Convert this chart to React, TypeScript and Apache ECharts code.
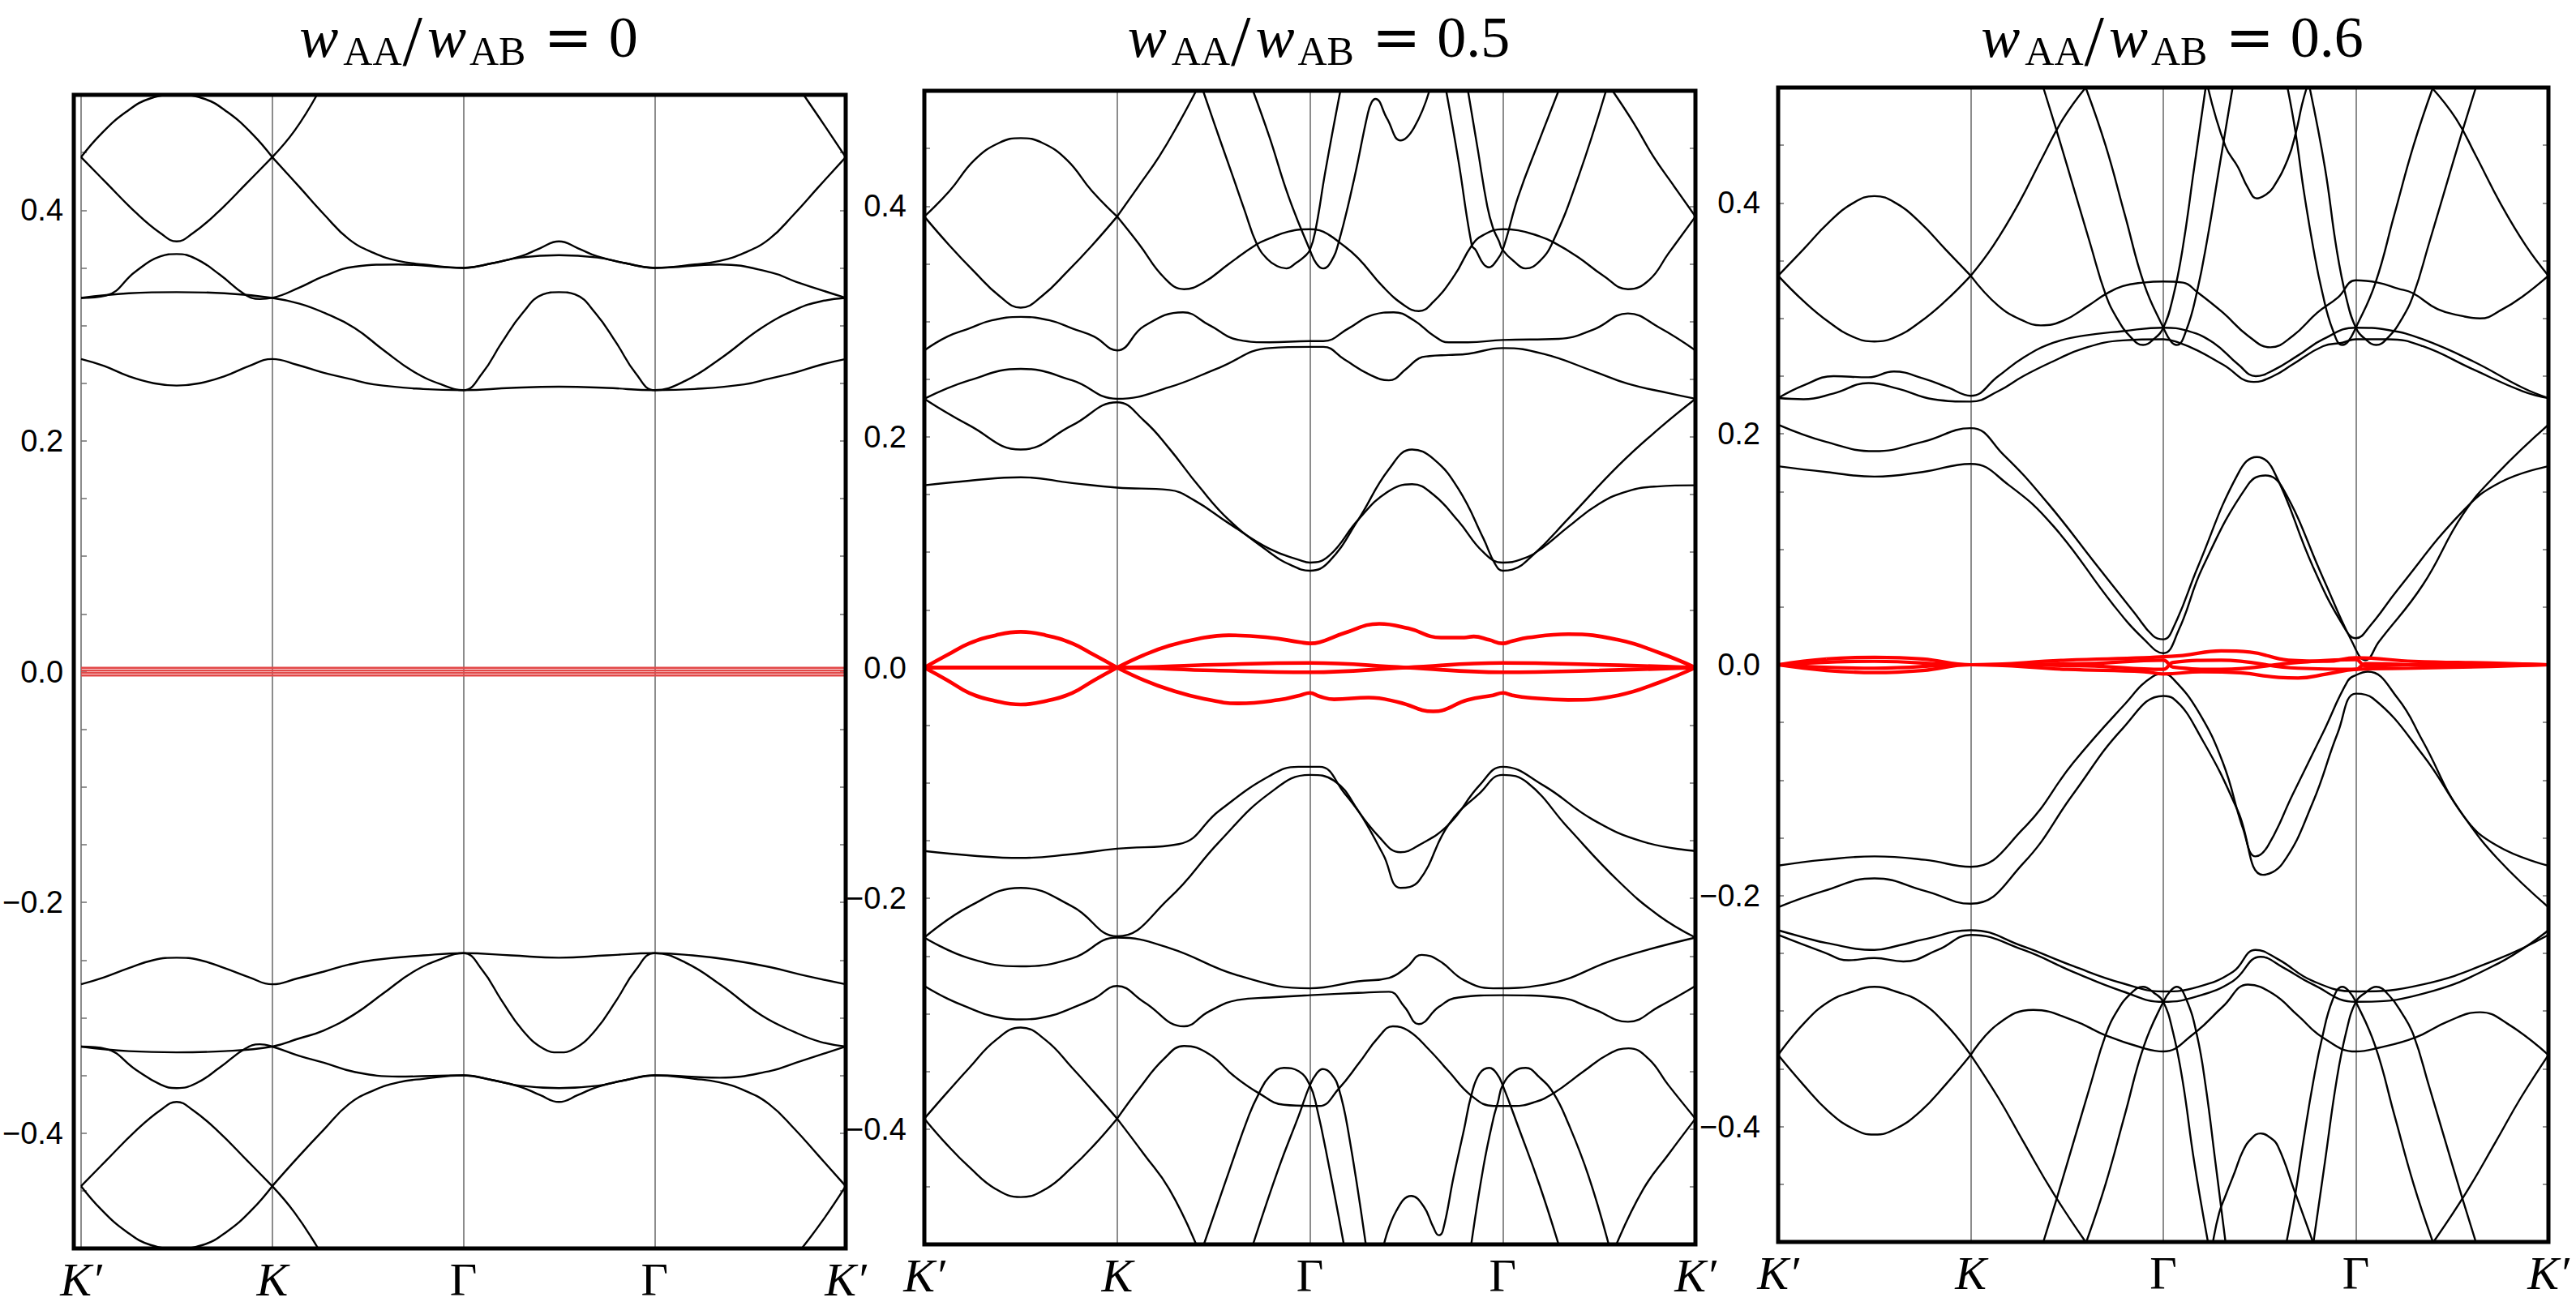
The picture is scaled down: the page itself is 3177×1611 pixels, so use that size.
import React, { useEffect, useRef } from 'react';
import * as echarts from 'echarts';

type Pt = [number, number];

// ---------- labels ----------
const kPathNames = ['K′', 'K', 'Γ', 'Γ', 'K′'];
const energyTicks = [-0.4, -0.2, 0, 0.2, 0.4];
const energyTickText = ['−0.4', '−0.2', '0.0', '0.2', '0.4'];
const ratioValues = ['0', '0.5', '0.6'];

// ---------- panel 1 : wAA/wAB = 0 ----------
const p1DiamondTop: Pt[] = [[0,0.446],[0.104,0.466],[0.234,0.485],[0.364,0.497],[0.5,0.5],[0.636,0.497],[0.766,0.485],[0.896,0.466],[1,0.446]];
const p1DiamondMid: Pt[] = [[0,0.446],[0.13,0.424],[0.286,0.398],[0.416,0.38],[0.5,0.373],[0.584,0.38],[0.714,0.398],[0.87,0.424],[1,0.446]];
const p1RiseK: Pt[] = [[1,0.446],[1.117,0.469],[1.234,0.5]];
const p1RiseKp: Pt[] = [[3.78,0.5],[3.883,0.475],[4,0.446]];
const p1BandD: Pt[] = [[1,0.446],[1.143,0.42],[1.273,0.396],[1.4,0.375],[1.53,0.363],[1.66,0.356],[1.79,0.353],[2,0.35],[2.15,0.354],[2.3,0.36],[2.4,0.367],[2.5,0.373],[2.6,0.367],[2.7,0.36],[2.85,0.354],[3,0.35],[3.21,0.353],[3.34,0.356],[3.47,0.363],[3.6,0.375],[3.727,0.396],[3.857,0.42],[4,0.446]];
const p1BandC: Pt[] = [[0,0.324],[0.13,0.326],[0.286,0.347],[0.416,0.36],[0.5,0.362],[0.6,0.358],[0.727,0.344],[0.857,0.327],[0.935,0.323],[1,0.324],[1.143,0.333],[1.273,0.343],[1.43,0.351],[1.66,0.353],[2,0.35],[2.15,0.354],[2.3,0.359],[2.5,0.361],[2.7,0.359],[2.85,0.354],[3,0.35],[3.34,0.353],[3.61,0.346],[3.74,0.338],[4,0.324]];
const p1BandB: Pt[] = [[0,0.324],[0.25,0.328],[0.5,0.329],[0.75,0.328],[1,0.324],[1.143,0.319],[1.273,0.311],[1.43,0.298],[1.58,0.279],[1.74,0.26],[1.9,0.248],[2,0.244],[2.1,0.259],[2.2,0.285],[2.31,0.311],[2.416,0.327],[2.5,0.329],[2.584,0.327],[2.69,0.311],[2.8,0.285],[2.9,0.259],[3,0.244],[3.16,0.252],[3.35,0.272],[3.56,0.298],[3.74,0.314],[3.87,0.321],[4,0.324]];
const p1BandA: Pt[] = [[0,0.271],[0.12,0.265],[0.25,0.256],[0.38,0.25],[0.5,0.248],[0.62,0.25],[0.75,0.256],[0.88,0.265],[1,0.271],[1.13,0.266],[1.27,0.259],[1.4,0.254],[1.53,0.249],[1.79,0.245],[2,0.244],[2.25,0.246],[2.5,0.247],[2.75,0.246],[3,0.244],[3.21,0.245],[3.47,0.249],[3.6,0.254],[3.73,0.259],[3.87,0.266],[4,0.271]];
const p1DiamondBottom: Pt[] = [[0,-0.446],[0.104,-0.466],[0.234,-0.485],[0.364,-0.497],[0.5,-0.5],[0.636,-0.497],[0.766,-0.485],[0.896,-0.466],[1,-0.446]];
const p1DiamondLowMid: Pt[] = [[0,-0.446],[0.13,-0.424],[0.286,-0.398],[0.416,-0.38],[0.5,-0.373],[0.584,-0.38],[0.714,-0.398],[0.87,-0.424],[1,-0.446]];
const p1DropK: Pt[] = [[1,-0.446],[1.117,-0.469],[1.24,-0.5]];
const p1DropKp: Pt[] = [[3.77,-0.5],[3.883,-0.475],[4,-0.446]];
const p1BandDLow: Pt[] = [[1,-0.446],[1.14,-0.42],[1.27,-0.397],[1.4,-0.375],[1.53,-0.363],[1.66,-0.356],[1.79,-0.353],[2,-0.35],[2.15,-0.354],[2.3,-0.36],[2.4,-0.367],[2.5,-0.373],[2.6,-0.367],[2.7,-0.36],[2.85,-0.354],[3,-0.35],[3.21,-0.353],[3.34,-0.356],[3.47,-0.363],[3.6,-0.375],[3.73,-0.396],[3.86,-0.42],[4,-0.446]];
const p1BandCLow: Pt[] = [[0,-0.325],[0.13,-0.327],[0.286,-0.345],[0.416,-0.358],[0.5,-0.361],[0.6,-0.357],[0.727,-0.343],[0.857,-0.327],[0.935,-0.323],[1,-0.325],[1.14,-0.333],[1.27,-0.339],[1.43,-0.347],[1.66,-0.351],[2,-0.35],[2.15,-0.354],[2.3,-0.359],[2.5,-0.361],[2.7,-0.359],[2.85,-0.354],[3,-0.35],[3.34,-0.352],[3.61,-0.346],[3.74,-0.339],[4,-0.325]];
const p1BandBLow: Pt[] = [[0,-0.325],[0.25,-0.329],[0.5,-0.33],[0.75,-0.329],[1,-0.325],[1.14,-0.318],[1.27,-0.311],[1.43,-0.297],[1.58,-0.279],[1.74,-0.26],[1.9,-0.248],[2,-0.244],[2.1,-0.259],[2.2,-0.285],[2.31,-0.311],[2.42,-0.327],[2.5,-0.33],[2.58,-0.327],[2.69,-0.311],[2.8,-0.285],[2.9,-0.259],[3,-0.244],[3.16,-0.252],[3.35,-0.272],[3.56,-0.298],[3.74,-0.313],[3.87,-0.321],[4,-0.325]];
const p1BandALow: Pt[] = [[0,-0.271],[0.12,-0.265],[0.25,-0.257],[0.38,-0.25],[0.5,-0.248],[0.62,-0.25],[0.75,-0.257],[0.88,-0.265],[1,-0.271],[1.13,-0.266],[1.27,-0.26],[1.4,-0.254],[1.53,-0.25],[1.79,-0.246],[2,-0.244],[2.25,-0.246],[2.5,-0.248],[2.75,-0.246],[3,-0.244],[3.2,-0.246],[3.4,-0.25],[3.6,-0.256],[3.8,-0.264],[4,-0.271]];
const p1FlatA: Pt[] = [[0,0.0033],[4,0.0033]];
const p1FlatB: Pt[] = [[0,0.0011],[4,0.0011]];
const p1FlatC: Pt[] = [[0,-0.0011],[4,-0.0011]];
const p1FlatD: Pt[] = [[0,-0.0033],[4,-0.0033]];

// ---------- panel 2 : wAA/wAB = 0.5 ----------
const p2DiamondTop: Pt[] = [[0,0.391],[0.13,0.413],[0.26,0.44],[0.39,0.455],[0.5,0.459],[0.61,0.455],[0.74,0.44],[0.87,0.413],[1,0.391]];
const p2DiamondBottom: Pt[] = [[0,0.391],[0.13,0.366],[0.26,0.343],[0.39,0.322],[0.5,0.312],[0.61,0.322],[0.74,0.343],[0.87,0.366],[1,0.391]];
const p2RiseK: Pt[] = [[1,0.391],[1.114,0.418],[1.218,0.443],[1.32,0.472],[1.41,0.5]];
const p2RiseKp: Pt[] = [[3.57,0.5],[3.68,0.472],[3.782,0.443],[3.886,0.418],[4,0.391]];
const p2Dome: Pt[] = [[1,0.391],[1.114,0.367],[1.244,0.338],[1.347,0.328],[1.45,0.334],[1.58,0.35],[1.725,0.367],[1.79,0.372],[1.89,0.378],[2,0.38],[2.05,0.379],[2.1,0.375],[2.15,0.369],[2.25,0.355],[2.38,0.33],[2.49,0.314],[2.565,0.309],[2.64,0.317],[2.75,0.34],[2.84,0.366],[2.9,0.375],[3,0.38],[3.08,0.379],[3.19,0.374],[3.26,0.369],[3.39,0.356],[3.52,0.34],[3.65,0.328],[3.76,0.336],[3.86,0.359],[4,0.391]];
const p2SteepA: Pt[] = [[1.446,0.5],[1.52,0.464],[1.6,0.426],[1.66,0.397],[1.725,0.367],[1.78,0.354],[1.83,0.348],[1.878,0.346],[1.93,0.351],[1.97,0.356],[2,0.362],[2.03,0.38],[2.08,0.43],[2.158,0.5]];
const p2SteepB: Pt[] = [[1.705,0.5],[1.79,0.46],[1.89,0.408],[2,0.362],[2.035,0.35],[2.07,0.346],[2.11,0.352],[2.15,0.369],[2.23,0.424],[2.3,0.48],[2.32,0.49],[2.34,0.493],[2.4,0.476],[2.47,0.457],[2.54,0.468],[2.62,0.5]];
const p2SteepC: Pt[] = [[2.707,0.5],[2.77,0.44],[2.84,0.366],[2.86,0.362],[2.9,0.35],[2.93,0.347],[2.965,0.352],[3,0.362],[3.08,0.408],[3.19,0.457],[3.29,0.5]];
const p2SteepD: Pt[] = [[2.82,0.5],[2.87,0.45],[2.92,0.4],[2.95,0.381],[2.98,0.37],[3,0.362],[3.06,0.352],[3.12,0.346],[3.19,0.352],[3.26,0.369],[3.39,0.424],[3.536,0.5]];
const p2BandP: Pt[] = [[0,0.275],[0.12,0.287],[0.233,0.294],[0.35,0.301],[0.5,0.304],[0.65,0.301],[0.767,0.294],[0.88,0.287],[1,0.275],[1.14,0.296],[1.342,0.308],[1.477,0.297],[1.632,0.284],[1.79,0.282],[2,0.283],[2.07,0.283],[2.2,0.294],[2.33,0.306],[2.435,0.308],[2.54,0.301],[2.64,0.288],[2.72,0.282],[2.82,0.282],[3,0.284],[3.29,0.285],[3.47,0.293],[3.65,0.307],[3.81,0.295],[4,0.275]];
const p2BandQ: Pt[] = [[0,0.233],[0.233,0.249],[0.5,0.259],[0.767,0.249],[1,0.233],[1.27,0.243],[1.53,0.26],[1.79,0.277],[2,0.278],[2.07,0.278],[2.18,0.267],[2.31,0.254],[2.41,0.249],[2.5,0.259],[2.565,0.268],[2.62,0.27],[2.72,0.271],[2.82,0.272],[3,0.277],[3.21,0.272],[3.47,0.257],[3.65,0.246],[3.86,0.238],[4,0.233]];
const p2BandR: Pt[] = [[0,0.233],[0.233,0.21],[0.5,0.189],[0.767,0.21],[1,0.23],[1.14,0.214],[1.27,0.19],[1.425,0.157],[1.58,0.128],[1.79,0.1],[1.9,0.089],[2,0.084],[2.1,0.092],[2.25,0.128],[2.41,0.172],[2.53,0.189],[2.64,0.181],[2.77,0.155],[2.9,0.112],[2.96,0.09],[3,0.084],[3.05,0.085],[3.16,0.098],[3.34,0.129],[3.6,0.175],[3.81,0.207],[4,0.233]];
const p2BandS: Pt[] = [[0,0.158],[0.233,0.162],[0.5,0.165],[0.767,0.16],[1,0.156],[1.27,0.154],[1.4,0.145],[1.58,0.125],[1.79,0.103],[1.95,0.093],[2,0.091],[2.1,0.097],[2.25,0.128],[2.4,0.152],[2.53,0.159],[2.64,0.15],[2.77,0.127],[2.9,0.1],[3,0.091],[3.1,0.094],[3.2,0.103],[3.34,0.122],[3.5,0.142],[3.65,0.153],[3.8,0.157],[4,0.158]];
const p2DiamondLowTop: Pt[] = [[0,-0.391],[0.12,-0.368],[0.233,-0.347],[0.37,-0.323],[0.5,-0.312],[0.63,-0.323],[0.767,-0.347],[0.88,-0.368],[1,-0.391]];
const p2DiamondLowBottom: Pt[] = [[0,-0.391],[0.12,-0.414],[0.233,-0.433],[0.37,-0.452],[0.5,-0.459],[0.63,-0.452],[0.767,-0.433],[0.88,-0.414],[1,-0.391]];
const p2DropK: Pt[] = [[1,-0.391],[1.14,-0.422],[1.27,-0.452],[1.41,-0.5]];
const p2DropKp: Pt[] = [[3.59,-0.5],[3.73,-0.452],[3.86,-0.422],[4,-0.391]];
const p2DomeLow: Pt[] = [[1,-0.391],[1.114,-0.365],[1.244,-0.339],[1.347,-0.328],[1.477,-0.335],[1.606,-0.354],[1.736,-0.369],[1.865,-0.379],[2,-0.38],[2.05,-0.38],[2.15,-0.365],[2.254,-0.343],[2.358,-0.32],[2.43,-0.311],[2.513,-0.315],[2.617,-0.331],[2.72,-0.35],[2.837,-0.371],[2.953,-0.38],[3.057,-0.38],[3.16,-0.377],[3.264,-0.369],[3.42,-0.35],[3.55,-0.335],[3.653,-0.33],[3.756,-0.339],[3.86,-0.362],[4,-0.391]];
const p2SteepALow: Pt[] = [[1.45,-0.5],[1.58,-0.437],[1.684,-0.388],[1.736,-0.369],[1.788,-0.355],[1.865,-0.347],[1.943,-0.35],[2,-0.362],[2.034,-0.38],[2.1,-0.433],[2.176,-0.5]];
const p2SteepBLow: Pt[] = [[1.705,-0.5],[1.84,-0.433],[1.943,-0.388],[2,-0.362],[2.034,-0.352],[2.067,-0.348],[2.11,-0.352],[2.15,-0.365],[2.2,-0.403],[2.29,-0.5]];
const p2SteepCLow: Pt[] = [[2.384,-0.5],[2.448,-0.471],[2.526,-0.458],[2.59,-0.467],[2.64,-0.485],[2.668,-0.492],[2.69,-0.488],[2.746,-0.441],[2.8,-0.4],[2.837,-0.371],[2.88,-0.352],[2.93,-0.347],[2.97,-0.352],[3,-0.362],[3.083,-0.399],[3.19,-0.448],[3.29,-0.5]];
const p2SteepDLow: Pt[] = [[2.837,-0.5],[2.9,-0.433],[2.953,-0.39],[2.975,-0.377],[3,-0.362],[3.06,-0.35],[3.12,-0.347],[3.19,-0.355],[3.264,-0.369],[3.34,-0.395],[3.446,-0.441],[3.55,-0.5]];
const p2BandPLow: Pt[] = [[0,-0.276],[0.12,-0.287],[0.233,-0.295],[0.35,-0.302],[0.5,-0.305],[0.65,-0.302],[0.767,-0.295],[0.88,-0.287],[1,-0.276],[1.14,-0.29],[1.347,-0.311],[1.477,-0.298],[1.63,-0.288],[1.79,-0.286],[2,-0.284],[2.25,-0.282],[2.41,-0.281],[2.49,-0.294],[2.565,-0.309],[2.67,-0.294],[2.77,-0.286],[3,-0.284],[3.29,-0.286],[3.47,-0.296],[3.65,-0.307],[3.81,-0.294],[4,-0.276]];
const p2BandQLow: Pt[] = [[0,-0.234],[0.233,-0.252],[0.5,-0.259],[0.767,-0.252],[1,-0.234],[1.27,-0.243],[1.63,-0.267],[2,-0.278],[2.25,-0.272],[2.41,-0.269],[2.5,-0.26],[2.58,-0.249],[2.67,-0.254],[2.8,-0.271],[2.95,-0.278],[3.21,-0.275],[3.6,-0.252],[4,-0.234]];
const p2BandRLow: Pt[] = [[0,-0.234],[0.233,-0.207],[0.5,-0.191],[0.767,-0.207],[1,-0.233],[1.27,-0.2],[1.53,-0.151],[1.79,-0.109],[2,-0.093],[2.125,-0.098],[2.25,-0.124],[2.38,-0.162],[2.47,-0.191],[2.565,-0.185],[2.72,-0.136],[2.88,-0.109],[3,-0.093],[3.13,-0.1],[3.34,-0.139],[3.6,-0.185],[3.81,-0.215],[4,-0.234]];
const p2BandSLow: Pt[] = [[0,-0.159],[0.25,-0.163],[0.5,-0.165],[0.75,-0.162],[1,-0.157],[1.32,-0.153],[1.53,-0.124],[1.79,-0.094],[1.94,-0.086],[2.05,-0.086],[2.18,-0.109],[2.36,-0.147],[2.47,-0.16],[2.565,-0.154],[2.72,-0.136],[2.88,-0.102],[3,-0.086],[3.21,-0.102],[3.47,-0.132],[3.73,-0.151],[4,-0.159]];
const p2FlatUpL: Pt[] = [[0,0],[0.12,0.011],[0.233,0.021],[0.37,0.028],[0.5,0.031],[0.63,0.028],[0.767,0.021],[0.88,0.011],[1,0]];
const p2FlatUpR: Pt[] = [[1,0],[1.14,0.011],[1.27,0.019],[1.42,0.025],[1.58,0.028],[1.79,0.026],[1.95,0.022],[2,0.021],[2.05,0.022],[2.18,0.03],[2.36,0.038],[2.51,0.034],[2.68,0.026],[2.8,0.026],[2.85,0.027],[2.93,0.024],[3,0.021],[3.05,0.023],[3.13,0.026],[3.34,0.029],[3.6,0.024],[3.81,0.013],[4,0]];
const p2FlatLoL: Pt[] = [[0,0],[0.12,-0.011],[0.233,-0.022],[0.37,-0.029],[0.5,-0.032],[0.63,-0.029],[0.767,-0.022],[0.88,-0.011],[1,0]];
const p2FlatLoR: Pt[] = [[1,0],[1.14,-0.011],[1.27,-0.019],[1.45,-0.027],[1.63,-0.031],[1.84,-0.028],[1.95,-0.024],[2,-0.022],[2.05,-0.025],[2.125,-0.0275],[2.305,-0.026],[2.46,-0.03],[2.64,-0.038],[2.82,-0.028],[2.95,-0.024],[3,-0.022],[3.05,-0.024],[3.13,-0.026],[3.34,-0.028],[3.6,-0.024],[3.81,-0.013],[4,0]];
const p2FlatMidA: Pt[] = [[0,0],[1,0],[1.5,0.0025],[2,0.004],[2.5,0],[3,-0.004],[3.5,-0.0025],[4,0]];
const p2FlatMidB: Pt[] = [[0,0],[1,0],[1.5,-0.0025],[2,-0.004],[2.5,0],[3,0.004],[3.5,0.0025],[4,0]];

// ---------- panel 3 : wAA/wAB = 0.6 ----------
const p3DiamondTop: Pt[] = [[0,0.337],[0.132,0.36],[0.262,0.383],[0.39,0.4],[0.5,0.406],[0.61,0.4],[0.738,0.383],[0.868,0.36],[1,0.337]];
const p3DiamondBottom: Pt[] = [[0,0.337],[0.132,0.315],[0.262,0.297],[0.39,0.284],[0.5,0.28],[0.61,0.284],[0.738,0.297],[0.868,0.315],[1,0.337]];
const p3RiseK: Pt[] = [[1,0.337],[1.117,0.363],[1.247,0.399],[1.377,0.441],[1.48,0.473],[1.597,0.5]];
const p3RiseKp: Pt[] = [[3.394,0.5],[3.52,0.473],[3.623,0.441],[3.753,0.399],[3.883,0.363],[4,0.337]];
const p3Dome: Pt[] = [[1,0.337],[1.143,0.311],[1.273,0.298],[1.364,0.294],[1.48,0.298],[1.61,0.311],[1.7,0.321],[1.79,0.328],[1.895,0.331],[2,0.332],[2.103,0.331],[2.175,0.323],[2.31,0.305],[2.44,0.285],[2.556,0.275],[2.673,0.285],[2.8,0.305],[2.906,0.318],[3,0.333],[3.114,0.331],[3.217,0.326],[3.295,0.322],[3.425,0.308],[3.555,0.302],[3.645,0.3],[3.762,0.308],[3.866,0.319],[4,0.337]];
const p3SteepA: Pt[] = [[1.377,0.5],[1.46,0.455],[1.54,0.41],[1.62,0.365],[1.7,0.321],[1.76,0.3],[1.83,0.284],[1.895,0.277],[1.95,0.282],[2,0.292],[2.05,0.318],[2.1,0.36],[2.16,0.43],[2.22,0.5]];
const p3SteepB: Pt[] = [[1.597,0.5],[1.7,0.45],[1.8,0.39],[1.9,0.33],[2,0.292],[2.04,0.28],[2.07,0.277],[2.12,0.29],[2.175,0.323],[2.23,0.37],[2.29,0.43],[2.36,0.5]];
const p3SteepC: Pt[] = [[2.645,0.5],[2.686,0.462],[2.73,0.41],[2.78,0.36],[2.825,0.323],[2.88,0.29],[2.93,0.277],[2.96,0.28],[3,0.292],[3.1,0.33],[3.2,0.39],[3.3,0.45],[3.4,0.5]];
const p3SteepD: Pt[] = [[2.76,0.5],[2.84,0.43],[2.9,0.36],[2.95,0.318],[3,0.292],[3.05,0.282],[3.105,0.277],[3.17,0.284],[3.24,0.3],[3.3,0.321],[3.38,0.365],[3.46,0.41],[3.54,0.455],[3.623,0.5]];
const p3Spike: Pt[] = [[2.232,0.5],[2.323,0.449],[2.388,0.431],[2.44,0.413],[2.486,0.404],[2.53,0.407],[2.569,0.413],[2.647,0.438],[2.69,0.462],[2.72,0.485],[2.745,0.5]];
const p3BandT1: Pt[] = [[0,0.231],[0.132,0.242],[0.288,0.25],[0.469,0.249],[0.6,0.254],[0.754,0.248],[0.884,0.24],[1,0.233],[1.143,0.25],[1.273,0.266],[1.43,0.279],[1.584,0.285],[1.79,0.289],[2,0.292],[2.13,0.289],[2.26,0.279],[2.39,0.26],[2.48,0.25],[2.57,0.255],[2.7,0.268],[2.83,0.282],[3,0.292],[3.166,0.29],[3.347,0.282],[3.607,0.263],[3.866,0.24],[4,0.231]];
const p3BandT2: Pt[] = [[0,0.231],[0.132,0.23],[0.288,0.235],[0.469,0.244],[0.625,0.239],[0.806,0.23],[1,0.228],[1.143,0.237],[1.273,0.25],[1.43,0.263],[1.584,0.274],[1.79,0.281],[2,0.282],[2.08,0.279],[2.18,0.272],[2.31,0.26],[2.47,0.245],[2.57,0.25],[2.67,0.26],[2.83,0.276],[2.93,0.279],[3,0.282],[3.166,0.282],[3.347,0.276],[3.607,0.256],[3.866,0.237],[4,0.231]];
const p3BandU1: Pt[] = [[0,0.208],[0.25,0.193],[0.5,0.185],[0.75,0.193],[1,0.205],[1.17,0.182],[1.4,0.14],[1.66,0.085],[1.85,0.045],[1.947,0.025],[2,0.022],[2.06,0.035],[2.18,0.085],[2.39,0.166],[2.486,0.18],[2.57,0.169],[2.777,0.085],[2.93,0.035],[3,0.023],[3.08,0.035],[3.217,0.065],[3.555,0.133],[3.75,0.158],[4,0.172]];
const p3BandU2: Pt[] = [[0,0.172],[0.25,0.167],[0.5,0.163],[0.75,0.167],[1,0.174],[1.195,0.156],[1.43,0.12],[1.74,0.052],[1.9,0.022],[2,0.01],[2.08,0.03],[2.206,0.085],[2.44,0.156],[2.53,0.164],[2.62,0.153],[2.83,0.075],[2.98,0.02],[3.05,0.004],[3.12,0.02],[3.347,0.069],[3.555,0.13],[3.736,0.166],[4,0.208]];
const p3DiamondLowTop: Pt[] = [[0,-0.338],[0.132,-0.311],[0.262,-0.292],[0.39,-0.283],[0.5,-0.279],[0.61,-0.283],[0.738,-0.292],[0.868,-0.311],[1,-0.338]];
const p3DiamondLowBottom: Pt[] = [[0,-0.338],[0.132,-0.364],[0.262,-0.387],[0.39,-0.402],[0.5,-0.407],[0.61,-0.402],[0.738,-0.387],[0.868,-0.364],[1,-0.338]];
const p3DropK: Pt[] = [[1,-0.338],[1.143,-0.375],[1.273,-0.413],[1.43,-0.458],[1.597,-0.5]];
const p3DropKp: Pt[] = [[3.403,-0.5],[3.57,-0.458],[3.727,-0.413],[3.857,-0.375],[4,-0.338]];
const p3DomeLow: Pt[] = [[1,-0.338],[1.143,-0.311],[1.325,-0.299],[1.532,-0.308],[1.7,-0.321],[1.895,-0.332],[2,-0.335],[2.155,-0.32],[2.31,-0.296],[2.44,-0.277],[2.569,-0.285],[2.7,-0.304],[2.829,-0.323],[3,-0.335],[3.114,-0.332],[3.308,-0.323],[3.477,-0.309],[3.645,-0.301],[3.788,-0.311],[4,-0.338]];
const p3SteepALow: Pt[] = [[1.377,-0.5],[1.46,-0.455],[1.54,-0.41],[1.62,-0.365],[1.7,-0.321],[1.76,-0.3],[1.83,-0.285],[1.895,-0.279],[1.95,-0.284],[2,-0.292],[2.05,-0.318],[2.1,-0.36],[2.16,-0.43],[2.232,-0.5]];
const p3SteepBLow: Pt[] = [[1.6,-0.5],[1.7,-0.45],[1.8,-0.39],[1.9,-0.33],[2,-0.292],[2.04,-0.282],[2.07,-0.279],[2.12,-0.29],[2.175,-0.321],[2.22,-0.365],[2.27,-0.43],[2.323,-0.5]];
const p3SpikeLow: Pt[] = [[2.258,-0.5],[2.29,-0.475],[2.323,-0.46],[2.37,-0.44],[2.414,-0.421],[2.46,-0.41],[2.505,-0.406],[2.55,-0.409],[2.595,-0.417],[2.686,-0.458],[2.777,-0.5]];
const p3SteepCLow: Pt[] = [[2.64,-0.5],[2.686,-0.458],[2.73,-0.41],[2.78,-0.36],[2.825,-0.323],[2.88,-0.29],[2.93,-0.279],[2.96,-0.282],[3,-0.292],[3.1,-0.33],[3.2,-0.39],[3.3,-0.45],[3.4,-0.5]];
const p3SteepDLow: Pt[] = [[2.78,-0.5],[2.84,-0.43],[2.9,-0.36],[2.95,-0.318],[3,-0.292],[3.05,-0.284],[3.105,-0.279],[3.17,-0.286],[3.24,-0.302],[3.3,-0.321],[3.38,-0.365],[3.46,-0.41],[3.54,-0.455],[3.623,-0.5]];
const p3BandV1Low: Pt[] = [[0,-0.23],[0.13,-0.236],[0.25,-0.241],[0.5,-0.247],[0.63,-0.243],[0.754,-0.238],[1,-0.23],[1.273,-0.244],[1.532,-0.261],[1.79,-0.276],[2,-0.283],[2.18,-0.279],[2.362,-0.266],[2.479,-0.247],[2.595,-0.255],[2.777,-0.274],[3,-0.283],[3.347,-0.277],[3.736,-0.255],[4,-0.234]];
const p3BandV2Low: Pt[] = [[0,-0.234],[0.236,-0.249],[0.366,-0.256],[0.5,-0.254],[0.65,-0.257],[0.83,-0.247],[1,-0.234],[1.273,-0.247],[1.532,-0.266],[1.79,-0.283],[2,-0.292],[2.18,-0.287],[2.362,-0.274],[2.505,-0.253],[2.62,-0.262],[2.777,-0.277],[3,-0.292],[3.347,-0.285],[3.736,-0.259],[4,-0.23]];
const p3BandU1Low: Pt[] = [[0,-0.174],[0.236,-0.169],[0.5,-0.166],[0.764,-0.169],[1,-0.175],[1.273,-0.142],[1.532,-0.085],[1.79,-0.036],[1.947,-0.01],[2,-0.008],[2.05,-0.012],[2.18,-0.04],[2.31,-0.085],[2.414,-0.142],[2.479,-0.166],[2.543,-0.157],[2.673,-0.112],[2.829,-0.059],[2.958,-0.014],[3,-0.009],[3.062,-0.006],[3.217,-0.029],[3.347,-0.066],[3.555,-0.13],[3.736,-0.157],[4,-0.174]];
const p3BandU2Low: Pt[] = [[0,-0.21],[0.236,-0.196],[0.5,-0.185],[0.764,-0.196],[1,-0.207],[1.273,-0.172],[1.532,-0.112],[1.79,-0.055],[2,-0.027],[2.05,-0.029],[2.206,-0.066],[2.388,-0.127],[2.517,-0.182],[2.62,-0.172],[2.777,-0.119],[2.906,-0.059],[3,-0.025],[3.088,-0.029],[3.347,-0.078],[3.555,-0.13],[3.736,-0.168],[4,-0.21]];
const p3FlatA: Pt[] = [[0,0],[0.25,0.005],[0.5,0.0064],[0.75,0.005],[1,0],[1.5,0.004],[1.9,0.006],[2,0.007],[2.1,0.008],[2.3,0.012],[2.45,0.011],[2.65,0.004],[2.85,0.003],[3,0.006],[3.3,0.003],[3.7,0.0015],[4,0]];
const p3FlatB: Pt[] = [[0,0],[0.25,-0.005],[0.5,-0.0068],[0.75,-0.005],[1,0],[1.5,-0.004],[1.9,-0.006],[2,-0.008],[2.2,-0.006],[2.4,-0.007],[2.6,-0.011],[2.7,-0.0115],[2.85,-0.008],[3,-0.004],[3.3,-0.003],[3.7,-0.0015],[4,0]];
const p3FlatC: Pt[] = [[0,0],[0.5,0.003],[1,0],[1.6,0.001],[2,0.004],[2.05,-0.002],[2.3,-0.004],[2.7,0.002],[3,0.0045],[3.05,-0.001],[3.5,0.001],[4,0]];
const p3FlatD: Pt[] = [[0,0],[0.5,-0.003],[1,0],[1.6,-0.001],[2,-0.004],[2.05,0.002],[2.3,0.004],[2.7,-0.003],[3,-0.004],[3.05,0.001],[3.5,-0.001],[4,0]];

const panel1Black = [p1DiamondTop, p1DiamondMid, p1RiseK, p1RiseKp, p1BandD, p1BandC, p1BandB, p1BandA, p1DiamondBottom, p1DiamondLowMid, p1DropK, p1DropKp, p1BandDLow, p1BandCLow, p1BandBLow, p1BandALow];
const panel1Red = [p1FlatA, p1FlatB, p1FlatC, p1FlatD];
const panel2Black = [p2DiamondTop, p2DiamondBottom, p2RiseK, p2RiseKp, p2Dome, p2SteepA, p2SteepB, p2SteepC, p2SteepD, p2BandP, p2BandQ, p2BandR, p2BandS, p2DiamondLowTop, p2DiamondLowBottom, p2DropK, p2DropKp, p2DomeLow, p2SteepALow, p2SteepBLow, p2SteepCLow, p2SteepDLow, p2BandPLow, p2BandQLow, p2BandRLow, p2BandSLow];
const panel2Red = [p2FlatUpL, p2FlatUpR, p2FlatLoL, p2FlatLoR, p2FlatMidA, p2FlatMidB];
const panel3Black = [p3DiamondTop, p3DiamondBottom, p3RiseK, p3RiseKp, p3Dome, p3SteepA, p3SteepB, p3SteepC, p3SteepD, p3Spike, p3BandT1, p3BandT2, p3BandU1, p3BandU2, p3DiamondLowTop, p3DiamondLowBottom, p3DropK, p3DropKp, p3DomeLow, p3SteepALow, p3SteepBLow, p3SpikeLow, p3SteepCLow, p3SteepDLow, p3BandV1Low, p3BandV2Low, p3BandU1Low, p3BandU2Low];
const panel3Red = [p3FlatA, p3FlatB, p3FlatC, p3FlatD];

// ---------- layout ----------
const W = 3177;
const H = 1611;
const panels = [
  { left: 91, top: 117, width: 952, height: 1423, black: panel1Black, red: panel1Red, redColor: '#e24848', redWidth: 2.6 },
  { left: 1140, top: 112, width: 951, height: 1423, black: panel2Black, red: panel2Red, redColor: '#ff0000', redWidth: 4.6 },
  { left: 2193, top: 108, width: 950, height: 1424, black: panel3Black, red: panel3Red, redColor: '#ff0000', redWidth: 4.2 },
];

const SERIF = 'Liberation Serif';
const SANS = 'Liberation Sans';
const WIDE_SERIF = 'DejaVu Serif';

function titleElements(cx: number, baseline: number, value: string) {
  const canvas = document.createElement('canvas');
  const ctx = canvas.getContext('2d') as CanvasRenderingContext2D;
  const F = 72;
  const S = 50;
  const pieces = [
    { text: 'w', size: F, family: SERIF, italic: true, dy: 0, gap: 6 },
    { text: 'AA', size: S, family: SERIF, italic: false, dy: 10, gap: 1 },
    { text: '/', size: 88, family: SERIF, italic: false, dy: 10, gap: 6 },
    { text: 'w', size: F, family: SERIF, italic: true, dy: 0, gap: 4 },
    { text: 'AB', size: S, family: SERIF, italic: false, dy: 10, gap: 22 },
    { text: '=', size: F, family: WIDE_SERIF, italic: false, dy: 0, gap: 20 },
    { text: value, size: F, family: SERIF, italic: false, dy: 0, gap: 0 },
  ];
  const widths = pieces.map((p) => {
    ctx.font = `${p.italic ? 'italic ' : ''}${p.size}px ${p.family}`;
    return ctx.measureText(p.text).width;
  });
  const total = widths.reduce((a, w, i) => a + w + pieces[i].gap, 0);
  let x = cx - total / 2;
  return pieces.map((p, i) => {
    const el = {
      type: 'text',
      x,
      // 'middle' centres the em box on y; shift so every piece shares one baseline
      y: baseline + p.dy - 0.3375 * p.size,
      z: 120,
      silent: true,
      style: {
        text: p.text,
        fontSize: p.size,
        fontFamily: p.family,
        fontStyle: p.italic ? 'italic' : 'normal',
        lineHeight: Math.round(p.size * 0.9),
        fill: '#000',
        align: 'left',
        verticalAlign: 'middle',
      },
    };
    x += widths[i] + p.gap;
    return el;
  });
}

function energyLabel(v: number) {
  const i = energyTicks.findIndex((t) => Math.abs(t - v) < 1e-6);
  return i >= 0 ? energyTickText[i] : '';
}

function kPathLabel(v: number) {
  const name = kPathNames[Math.round(v)];
  return name === 'Γ' ? `{g|${name}}` : `{k|${name}}`;
}

export default function App() {
  const ref = useRef<HTMLDivElement>(null);

  useEffect(() => {
    if (!ref.current) return;
    const chart = echarts.init(ref.current, null, { renderer: 'svg' });

    const grid = panels.map((p) => ({ left: p.left, top: p.top, width: p.width, height: p.height, containLabel: false }));

    const xAxis = panels.map((_, i) => ({
      type: 'value',
      gridIndex: i,
      min: 0,
      max: 4,
      interval: 1,
      axisLine: { show: false },
      axisTick: { show: false },
      splitLine: { show: true, lineStyle: { color: '#8c8c8c', width: 2 } },
      axisLabel: {
        show: true,
        margin: 15,
        showMinLabel: true,
        showMaxLabel: true,
        formatter: kPathLabel,
        rich: {
          k: { fontFamily: SERIF, fontStyle: 'italic', fontSize: 58, lineHeight: 46, color: '#000' },
          g: { fontFamily: SERIF, fontSize: 58, lineHeight: 46, color: '#000' },
        },
      },
    }));

    const yAxis: any[] = [];
    panels.forEach((_, i) => {
      const base = {
        type: 'value',
        gridIndex: i,
        min: -0.5,
        max: 0.5,
        interval: 0.05,
        axisLine: { show: false },
        splitLine: { show: false },
        axisTick: { show: true, inside: true, length: 7, lineStyle: { color: '#6e6e6e', width: 1.5 } },
      };
      yAxis.push({
        ...base,
        position: 'left',
        axisLabel: { show: true, formatter: energyLabel, fontSize: 38, fontFamily: SANS, color: '#000', margin: 22 },
      });
      yAxis.push({ ...base, position: 'right', axisLabel: { show: false } });
    });

    const series: any[] = [];
    panels.forEach((p, i) => {
      p.black.forEach((curve) => {
        series.push({
          type: 'line',
          xAxisIndex: i,
          yAxisIndex: 2 * i,
          data: curve,
          smooth: 0.45,
          symbol: 'none',
          silent: true,
          clip: true,
          z: 3,
          lineStyle: { color: '#000', width: 2.4 },
        });
      });
      p.red.forEach((curve) => {
        series.push({
          type: 'line',
          xAxisIndex: i,
          yAxisIndex: 2 * i,
          data: curve,
          smooth: 0.45,
          symbol: 'none',
          silent: true,
          clip: true,
          z: 4,
          lineStyle: { color: p.redColor, width: p.redWidth },
        });
      });
    });

    const frames = panels.map((p) => ({
      type: 'rect',
      z: 110,
      shape: { x: p.left, y: p.top, width: p.width, height: p.height },
      style: { fill: 'none', stroke: '#000', lineWidth: 5 },
      silent: true,
    }));

    const titles = panels.flatMap((p, i) => titleElements(p.left + p.width / 2 + 11, 70, ratioValues[i]));

    chart.setOption({
      animation: false,
      backgroundColor: '#ffffff',
      grid,
      xAxis,
      yAxis,
      series,
      graphic: [...frames, ...titles],
    });

    return () => chart.dispose();
  }, []);

  return <div ref={ref} style={{ position: 'fixed', left: 0, top: 0, width: W, height: H, background: '#fff' }} />;
}
